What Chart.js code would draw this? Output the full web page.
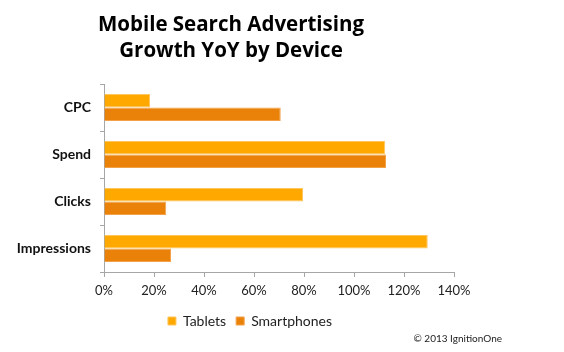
<!DOCTYPE html>
<html>
<head>
<meta charset="utf-8">
<script src="https://cdn.jsdelivr.net/npm/chart.js@4"></script>
<style>
  html, body { margin: 0; padding: 0; background: #fff; }
  #wrap { width: 564px; height: 352px; position: relative; }
</style>
</head>
<body>
<div id="wrap"><canvas id="growthCanvas"></canvas></div>
<script>
// Mobile search advertising growth, year over year (%)
const categories = ['CPC', 'Spend', 'Clicks', 'Impressions'];
const tablets = [18.4, 112.5, 79.6, 129.5];
const smartphones = [70.7, 112.8, 24.9, 26.8];
const xTicks = [0, 20, 40, 60, 80, 100, 120, 140];
const titleLines = ['Mobile Search Advertising', 'Growth YoY by Device'];
const credit = '\u00A9 2013 IgnitionOne';

const TABLET_COLOR = '#FFA800';
const PHONE_COLOR = '#EA8209';

// title + credit line drawn on top of the canvas
const headerPlugin = {
  id: 'header',
  afterLayout(chart) {
    // legend sits a bit right of the plot centre in the original
    chart.legend.left += 23;
    chart.legend.right += 23;
  },
  afterDraw(chart) {
    const ctx = chart.ctx;
    ctx.save();
    ctx.fillStyle = '#000';
    ctx.textAlign = 'center';
    ctx.textBaseline = 'middle';
    ctx.font = 'bold 20.5px "Open Sans"';
    ctx.fillText(titleLines[0], 231, 25);
    ctx.fillText(titleLines[1], 231, 51);
    ctx.textAlign = 'right';
    ctx.font = '10px Lato';
    ctx.fillStyle = '#222';
    ctx.fillText(credit, 502, 339);
    ctx.restore();
  }
};

new Chart(document.getElementById('growthCanvas').getContext('2d'), {
  type: 'bar',
  data: {
    labels: categories,
    datasets: [
      {
        label: 'Tablets',
        data: tablets,
        backgroundColor: TABLET_COLOR,
        borderColor: '#FFC65C',
        borderWidth: 1,
        categoryPercentage: 0.57,
        barPercentage: 1.0,
      },
      {
        label: 'Smartphones',
        data: smartphones,
        backgroundColor: PHONE_COLOR,
        borderColor: '#F2A04A',
        borderWidth: 1,
        categoryPercentage: 0.57,
        barPercentage: 1.0,
      },
    ],
  },
  options: {
    indexAxis: 'y',
    responsive: true,
    maintainAspectRatio: false,
    animation: false,
    layout: { padding: { top: 84, left: 0, right: 110, bottom: 14 } },
    plugins: {
      title: { display: false },
      tooltip: { enabled: false },
      legend: {
        position: 'bottom',
        labels: {
          color: '#222',
          font: { family: 'Lato', size: 14 },
          boxWidth: 8,
          boxHeight: 8,
          padding: 10,
        },
      },
    },
    scales: {
      x: {
        min: 0,
        max: 140,
        afterBuildTicks(scale) {
          scale.ticks = xTicks.map(v => ({ value: v }));
        },
        afterFit(scale) { scale.height = 32; },
        grid: {
          drawOnChartArea: false,
          drawTicks: true,
          tickLength: 5,
          color: '#A6A6A6',
        },
        border: { display: true, color: '#A6A6A6', width: 1 },
        ticks: {
          color: '#222',
          padding: 6,
          font: { family: 'Lato', size: 13 },
          callback: v => v + '%',
        },
      },
      y: {
        afterFit(scale) { scale.width = 104; },
        grid: {
          offset: true,
          drawOnChartArea: false,
          drawTicks: true,
          tickLength: 4,
          color: '#A6A6A6',
        },
        border: { display: true, color: '#A6A6A6', width: 1 },
        ticks: {
          color: '#111',
          padding: 9,
          font: { family: 'Lato', size: 14, weight: 'bold' },
        },
      },
    },
  },
  plugins: [headerPlugin],
});
</script>
</body>
</html>
